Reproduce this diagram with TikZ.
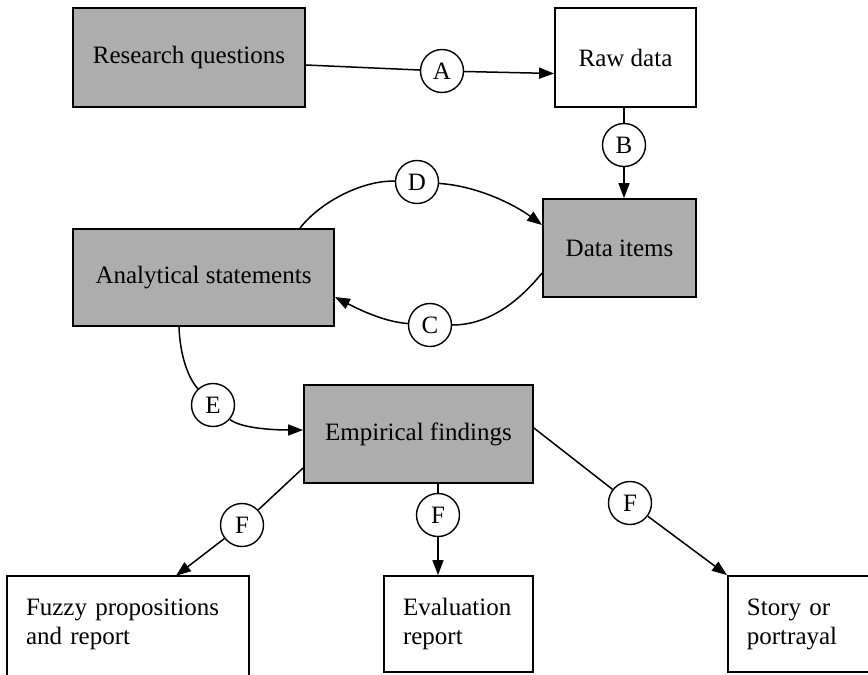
\documentclass[tikz,border=0pt]{standalone}
\usepackage{fontspec}
\setmainfont{Liberation Serif}
\usetikzlibrary{arrows.meta}
\begin{document}
\begin{tikzpicture}[x=1pt,y=-1pt,
  every node/.style={font=\fontsize{25}{29}\selectfont},
  box/.style={draw=black, line width=1.8pt, inner sep=0pt, align=center},
  shaded/.style={box, fill=black!32},
  plain/.style={box, fill=white},
  outbox/.style={inner xsep=19pt, inner ysep=0pt, align=left, minimum height=96pt},
  tag/.style={circle, draw, line width=1.4pt, fill=white, minimum size=43pt, inner sep=0pt},
  conn/.style={line width=1.5pt},
  arr/.style={conn, -{Triangle[length=15pt,width=11pt]}}
]
\useasboundingbox (0,0) rectangle (868,675);
\clip (0,0) rectangle (868,675);
\fill[white] (0,0) rectangle (868,675);

% main boxes
\node[shaded, minimum width=232pt, minimum height=99pt] (rq) at (189,57.5) {Research questions};
\node[plain, minimum width=141pt, minimum height=99pt] (raw) at (625.5,57.5) {Raw data};
\node[shaded, minimum width=153pt, minimum height=98pt] (items) at (619.5,248) {Data items};
\node[shaded, minimum width=261pt, minimum height=97pt] (an) at (203.5,277.5) {Analytical statements};
\node[shaded, minimum width=229pt, minimum height=98pt] (emp) at (418.5,434) {Empirical findings};

% output boxes
\node[outbox, text width=204pt] (fz) at (128,624) {Fuzzy propositions\\and report};
\draw[line width=1.8pt] ([yshift=-40pt]fz.south west) |- (fz.north east) -- ([yshift=-40pt]fz.south east);
\node[outbox, draw, line width=1.8pt, text width=111pt] (ev) at (458.5,624) {Evaluation\\report};
\node[outbox, draw, line width=1.8pt, text width=140pt, anchor=west] (st) at (727,624) {Story or\\portrayal};

% labels
\node[tag] (A) at (442,71) {A};
\node[tag] (B) at (624,145) {B};
\node[tag] (D) at (417,182) {D};
\node[tag] (C) at (430,325) {C};
\node[tag] (E) at (213,405) {E};
\node[tag] (F1) at (242,525) {F};
\node[tag] (F2) at (438,515) {F};
\node[tag] (F3) at (630,503) {F};

% connectors
\draw[conn] ([yshift=-7.5pt]rq.east) -- (A);
\draw[arr] (A) -- ([yshift=-16pt]raw.west);
\draw[conn] (raw.south -| B) -- (B);
\draw[arr] (B) -- (items.north -| B);
\draw[conn] ([xshift=96.5pt]an.north) .. controls (322,200) and (365,180) .. (D);
\draw[arr] (D) .. controls (478,186) and (515,205) .. ([yshift=23pt]items.west);
\draw[conn] ([yshift=-25pt]items.west) .. controls (520,300) and (490,325) .. (C);
\draw[arr] (C) .. controls (385,322) and (360,310) .. ([yshift=-19.5pt]an.east);
\draw[conn] ([xshift=-24.5pt]an.south) .. controls (180,355) and (188,378) .. (E);
\draw[arr] (E) .. controls (240,428) and (272,430) .. ([yshift=4pt]emp.west);
\draw[conn] ([yshift=-34pt]emp.west) -- (F1);
\draw[arr] (F1) -- ([xshift=48pt]fz.north);
\draw[conn] ([yshift=6pt]emp.east) -- (F3);
\draw[arr] (F3) -- (st.north west);
\draw[conn] (emp.south -| F2) -- (F2);
\draw[arr] (F2) -- (ev.north -| F2);
\end{tikzpicture}
\end{document}
